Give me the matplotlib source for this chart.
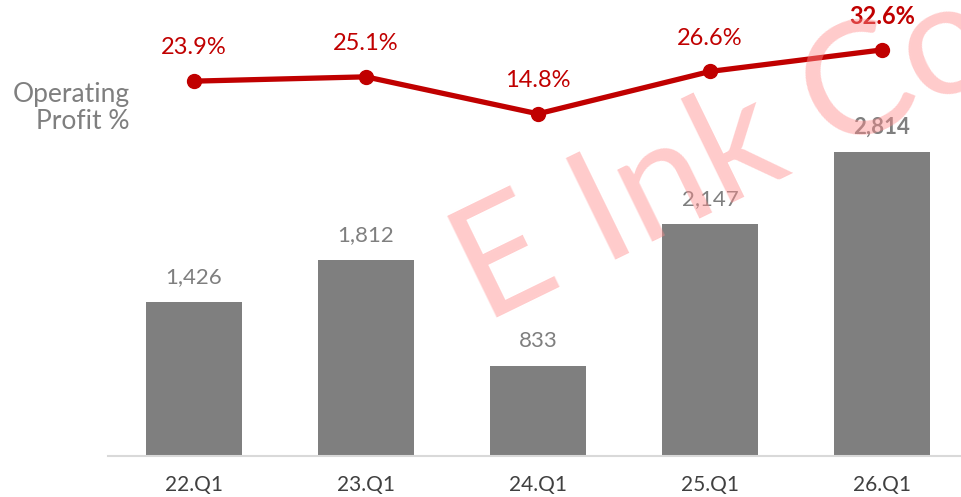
import matplotlib.pyplot as plt

quarters = ['22.Q1', '23.Q1', '24.Q1', '25.Q1', '26.Q1']
op_income = [1426, 1812, 833, 2147, 2814]
op_margin = [23.9, 25.1, 14.8, 26.6, 32.6]
bar_labels = ['1,426', '1,812', '833', '2,147', '2,814']
pct_labels = ['23.9%', '25.1%', '14.8%', '26.6%', '32.6%']

plt.rcParams['font.family'] = ['Lato', 'DejaVu Sans']

fig = plt.figure(figsize=(9.61, 4.97), dpi=100)
ax = fig.add_axes([108 / 961, 41 / 497, 860 / 961, 456 / 497])
x = range(len(quarters))

ax.bar(x, op_income, width=0.56, color='#7f7f7f', zorder=2)
ax.set_xlim(-0.5, 4.5)
ax.set_ylim(0, 4222)
for i, (v, lab) in enumerate(zip(op_income, bar_labels)):
    last = i == len(quarters) - 1
    ax.annotate(lab, (i, v), xytext=(0, 18), textcoords='offset points',
                ha='center', va='center', fontsize=16, color='#7f7f7f',
                fontweight='bold' if last else 'normal')

for s in ['top', 'right', 'left']:
    ax.spines[s].set_visible(False)
ax.spines['bottom'].set_color('#d9d9d9')
ax.spines['bottom'].set_linewidth(1.5)
ax.set_yticks([])
ax.set_xticks(list(x))
ax.set_xticklabels(quarters, fontsize=15, color='#404040')
ax.tick_params(axis='x', length=0, pad=14)

ax2 = ax.twinx()
ax2.set_ylim(-80.5, 46.5)
ax2.axis('off')
ax2.plot(list(x), op_margin, color='#c00000', lw=3.8, marker='o', markersize=10, zorder=3)
for i, (v, lab) in enumerate(zip(op_margin, pct_labels)):
    last = i == len(quarters) - 1
    ax2.annotate(lab, (i, v), xytext=(0, 24), textcoords='offset points',
                 ha='center', va='center', fontsize=17, color='#c00000',
                 fontweight='bold' if last else 'normal')

fig.text(130 / 961, 1 - 108 / 497, 'Operating\nProfit %', ha='right', va='center',
         fontsize=19, color='#7f7f7f', linespacing=1.1)

# watermark
fig.text(484 / 961, 1 - 324 / 497, 'E Ink Corporation', rotation=26,
         rotation_mode='anchor', ha='left', va='baseline', fontsize=114,
         color='#ff8c8c', alpha=0.45, zorder=10)

fig.savefig('out.png', dpi=100)
